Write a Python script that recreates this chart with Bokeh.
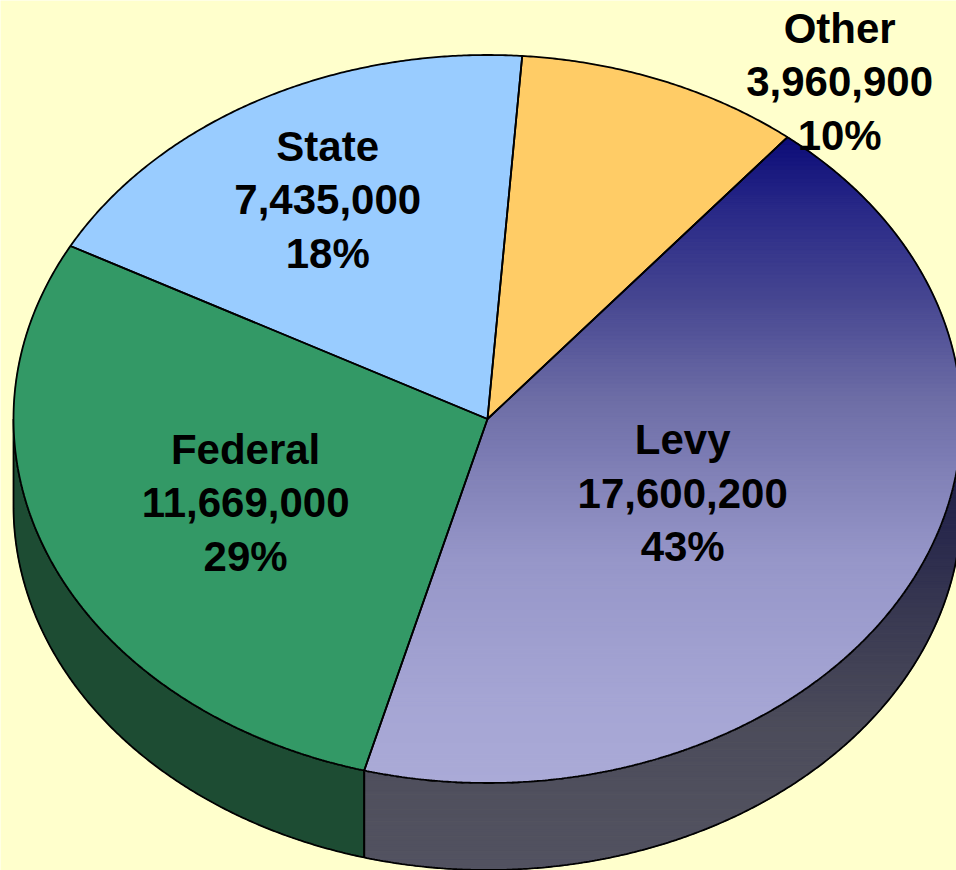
import numpy as np
from bokeh.plotting import figure
from bokeh.models import Range1d
from bokeh.embed import file_html
from bokeh.resources import INLINE
from bokeh.core.properties import value

# ---------------- data ----------------
categories = ["Other", "Levy", "Federal", "State"]
amounts = [3960900, 17600200, 11669000, 7435000]

# ---------------- layout / style ----------------
W, H = 956, 870
CX, CY = 487.0, 418.5          # pie centre (pixels from top-left)
RX, RY = 474.0, 364.0          # ellipse radii
DEPTH = 87.0                   # 3-D thickness
START_DEG = 85.8               # first slice boundary, slices run clockwise

BG = "#FFFFCC"
top_color = {"Other": "#FFCC66", "State": "#99CCFF", "Federal": "#339966", "Levy": "gradient"}
side_color = {"Other": "#8A6E37", "State": "#52708A", "Federal": "#1D4C33", "Levy": "gradient"}

levy_top_stops = [(0.00, (12, 12, 120)), (0.11, (40, 40, 135)), (0.25, (70, 70, 145)),
                  (0.40, (108, 108, 165)), (0.50, (125, 125, 180)), (0.65, (150, 150, 200)),
                  (0.87, (165, 165, 212)), (1.00, (170, 170, 215))]
levy_side_stops = [(460, (30, 30, 72)), (530, (40, 40, 76)), (620, (58, 58, 82)),
                   (720, (75, 75, 90)), (800, (80, 80, 94)), (870, (82, 82, 96))]

label_r = {"Other": 1.19, "Levy": 0.458, "Federal": 0.559, "State": 0.693}
label_dang = {"Other": -16.9, "Levy": 1.2, "Federal": 0.8, "State": 0.4}
FONT = "Liberation Sans"
FONT_PX = 42
LINE_STEP = 53.5
BASE_SHIFT = 1.0


def pt(theta_deg, r=1.0, drop=0.0):
    t = np.radians(theta_deg)
    x = CX + RX * r * np.cos(t)
    y = -CY + RY * r * np.sin(t) - drop
    return x, y


def arc(a0, a1, drop=0.0, n=None):
    if n is None:
        n = max(8, int(abs(a0 - a1) * 3))
    th = np.linspace(a0, a1, n)
    xs, ys = pt(th, 1.0, drop)
    return list(xs), list(ys)


def clip_half(poly, yc, keep_above):
    out = []
    m = len(poly)
    for i in range(m):
        cx_, cy_ = poly[i]
        px_, py_ = poly[i - 1]
        cin = cy_ >= yc if keep_above else cy_ <= yc
        pin = py_ >= yc if keep_above else py_ <= yc
        if cin:
            if not pin:
                t = (yc - py_) / (cy_ - py_)
                out.append((px_ + t * (cx_ - px_), yc))
            out.append((cx_, cy_))
        elif pin:
            t = (yc - py_) / (cy_ - py_)
            out.append((px_ + t * (cx_ - px_), yc))
    return out


def clip_band(xs, ys, ylo, yhi):
    poly = list(zip(xs, ys))
    poly = clip_half(poly, ylo, True)
    if not poly:
        return [], []
    poly = clip_half(poly, yhi, False)
    if not poly:
        return [], []
    return [p[0] for p in poly], [p[1] for p in poly]


def interp(stops, v):
    if v <= stops[0][0]:
        c = stops[0][1]
    elif v >= stops[-1][0]:
        c = stops[-1][1]
    else:
        for (v0, c0), (v1, c1) in zip(stops[:-1], stops[1:]):
            if v0 <= v <= v1:
                f = (v - v0) / (v1 - v0)
                c = tuple(c0[k] + f * (c1[k] - c0[k]) for k in range(3))
                break
    return "#%02x%02x%02x" % tuple(int(round(x)) for x in c)


p = figure(width=W, height=H, x_range=Range1d(0, W), y_range=Range1d(-H, 0),
           output_backend="svg", toolbar_location=None, min_border=0,
           x_axis_location=None, y_axis_location=None,
           background_fill_color=BG, border_fill_color=BG, outline_line_color=None)
p.grid.visible = False

total = float(sum(amounts))
fracs = [a / total for a in amounts]

slices = []
a = START_DEG
for name, fr in zip(categories, fracs):
    a0, a1 = a, a - fr * 360.0
    slices.append((name, a0, a1, fr))
    a = a1

# ---------- sides ----------
side_polys = []
for name, a0, a1, fr in slices:
    for k in (-1, 0, 1):
        lo = max(a1, -180 + 360 * k)
        hi = min(a0, 360 * k)
        if hi > lo:
            tx, ty = arc(hi, lo)
            bx, by = arc(lo, hi, drop=DEPTH)
            side_polys.append((name, tx + bx, ty + by))

for name, xs, ys in side_polys:
    if side_color[name] == "gradient":
        ymin, ymax = min(ys), max(ys)
        nb = 120
        edges = np.linspace(ymin, ymax, nb + 1)
        bxs, bys, cols = [], [], []
        for i in range(nb):
            cx_, cy_ = clip_band(xs, ys, edges[i], edges[i + 1])
            if cx_:
                bxs.append(cx_)
                bys.append(cy_)
                cols.append(interp(levy_side_stops, -(edges[i] + edges[i + 1]) / 2))
        p.patches(bxs, bys, fill_color=cols, line_color=cols, line_width=1.2)
    else:
        c = side_color[name]
        p.patch(xs, ys, fill_color=c, line_color=c, line_width=1)

for name, xs, ys in side_polys:
    p.patch(xs, ys, fill_color=None, line_color="black", line_width=1.8)

# ---------- tops ----------
top_polys = []
for name, a0, a1, fr in slices:
    ax, ay = arc(a0, a1)
    top_polys.append((name, [CX] + ax, [-CY] + ay))

for name, xs, ys in top_polys:
    if top_color[name] == "gradient":
        ymin, ymax = min(ys), max(ys)
        nb = 160
        edges = np.linspace(ymin, ymax, nb + 1)
        bxs, bys, cols = [], [], []
        for i in range(nb):
            cx_, cy_ = clip_band(xs, ys, edges[i], edges[i + 1])
            if cx_:
                bxs.append(cx_)
                bys.append(cy_)
                tmid = (ymax - (edges[i] + edges[i + 1]) / 2) / (ymax - ymin)
                cols.append(interp(levy_top_stops, tmid))
        p.patches(bxs, bys, fill_color=cols, line_color=cols, line_width=1.2)
    else:
        c = top_color[name]
        p.patch(xs, ys, fill_color=c, line_color=c, line_width=1)

for name, xs, ys in top_polys:
    p.patch(xs, ys, fill_color=None, line_color="black", line_width=1.8)

# ---------- labels ----------
for name, a0, a1, fr in slices:
    amt = amounts[categories.index(name)]
    mid = (a0 + a1) / 2 + label_dang[name]
    lx, ly = pt(mid, label_r[name])
    base = ly - BASE_SHIFT
    lines = [name, f"{amt:,}", f"{round(fr * 100)}%"]
    for i, txt in enumerate(lines):
        p.text(x=[lx], y=[base - (i - 1) * LINE_STEP], text=[txt],
               text_font=value(FONT), text_font_style="bold",
               text_font_size=f"{FONT_PX}px", text_color="black",
               text_align="center", text_baseline="alphabetic")

open("out.html", "w").write(file_html(p, INLINE))
